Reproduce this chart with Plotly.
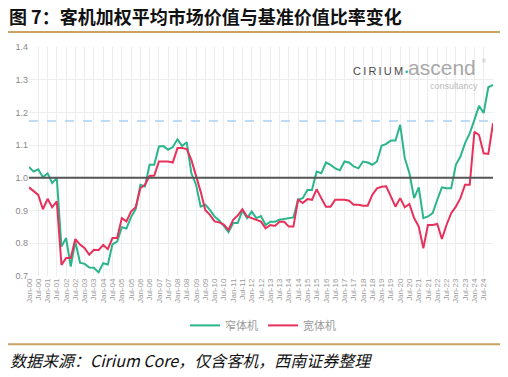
import plotly.graph_objects as go
import pandas as pd

# Quarterly observations, Jan-00 .. Jan-25
dates = pd.date_range("2000-01-01", periods=101, freq="QS")

narrowbody = [
    1.033, 1.019, 1.026, 1.002, 1.014, 0.984, 0.999, 0.790, 0.816, 0.729,
    0.805, 0.741, 0.737, 0.726, 0.725, 0.711, 0.739, 0.735, 0.797, 0.805,
    0.849, 0.845, 0.880, 0.904, 0.979, 0.974, 1.040, 1.040, 1.096, 1.097,
    1.086, 1.094, 1.118, 1.097, 1.109, 1.014, 0.979, 0.912, 0.918, 0.902,
    0.882, 0.870, 0.853, 0.834, 0.862, 0.862, 0.900, 0.877, 0.897, 0.877,
    0.883, 0.856, 0.866, 0.866, 0.872, 0.874, 0.877, 0.879, 0.933, 0.938,
    0.963, 0.963, 1.019, 1.014, 1.047, 1.040, 1.029, 1.023, 1.050, 1.047,
    1.035, 1.029, 1.050, 1.047, 1.040, 1.050, 1.098, 1.104, 1.114, 1.114,
    1.162, 1.060, 1.014, 0.938, 0.971, 0.877, 0.882, 0.892, 0.933, 0.971,
    0.968, 0.968, 1.040, 1.065, 1.106, 1.136, 1.177, 1.220, 1.198, 1.277,
    1.284,
]

widebody = [
    0.971, 0.958, 0.948, 0.904, 0.936, 0.910, 0.928, 0.734, 0.755, 0.755,
    0.813, 0.796, 0.785, 0.765, 0.780, 0.779, 0.795, 0.782, 0.816, 0.816,
    0.877, 0.867, 0.897, 0.910, 0.968, 0.979, 1.006, 1.007, 1.050, 1.050,
    1.050, 1.047, 1.091, 1.091, 1.088, 1.055, 1.009, 0.958, 0.902, 0.887,
    0.867, 0.864, 0.857, 0.841, 0.872, 0.885, 0.904, 0.882, 0.877, 0.872,
    0.866, 0.846, 0.856, 0.853, 0.866, 0.866, 0.851, 0.851, 0.933, 0.923,
    0.935, 0.933, 0.965, 0.938, 0.912, 0.912, 0.933, 0.933, 0.933, 0.930,
    0.918, 0.918, 0.915, 0.915, 0.948, 0.968, 0.973, 0.974, 0.945, 0.912,
    0.938, 0.910, 0.920, 0.877, 0.851, 0.785, 0.856, 0.856, 0.859, 0.813,
    0.856, 0.892, 0.912, 0.938, 0.979, 0.979, 1.141, 1.131, 1.075, 1.073,
    1.167,
]

baseline = 1.0
dashed_ref = 1.174

tick_dates = pd.date_range("2000-01-01", "2025-01-01", freq="6MS")
tick_text = [d.strftime("%b-%y") for d in tick_dates[:-1]] + [""]

# page body has an 8px margin; figure fills the rest of the 508x377 window
OFF = 8
W, H = 508 - OFF, 377 - OFF
# plot area in reference (window) pixels
RL, RR, RT, RB = 29, 493, 47, 276.5
L, R, T, B = RL - OFF, RR - OFF, RT - OFF, RB - OFF


def px2x(px):  # px given in reference window pixels
    return (px - RL) / (RR - RL)


def py2y(py):
    return (RB - py) / (RB - RT)


GREEN = "#2BB58C"
RED = "#E8305A"
GOLD = "#C9A265"

fig = go.Figure()
fig.add_trace(go.Scatter(x=dates, y=narrowbody, mode="lines", name="窄体机",
                         line=dict(color=GREEN, width=2)))
fig.add_trace(go.Scatter(x=dates, y=widebody, mode="lines", name="宽体机",
                         line=dict(color=RED, width=2)))

fig.add_hline(y=baseline, line=dict(color="#555555", width=2))
fig.add_hline(y=dashed_ref, line=dict(color="#A9D1F2", width=1.5, dash="dash"))

fig.update_layout(
    width=W, height=H,
    margin=dict(l=L, r=W - R, t=T, b=H - B, autoexpand=False),
    paper_bgcolor="white", plot_bgcolor="white",
    font=dict(family="Liberation Sans, Arial, sans-serif", color="#888888"),
    showlegend=True,
    legend=dict(orientation="h", x=px2x(263), xanchor="center",
                y=py2y(326), yanchor="middle",
                font=dict(size=11, color="#9a9a9a",
                          family="Noto Sans CJK SC, sans-serif"),
                itemwidth=30, tracegroupgap=0),
    xaxis=dict(
        type="date",
        range=[dates[0], pd.Timestamp("2025-01-01")],
        tickvals=tick_dates, ticktext=tick_text,
        tickangle=-90, tickfont=dict(size=8, color="#999999"),
        showgrid=True, gridcolor="#EDEDED", gridwidth=1,
        zeroline=False, showline=False, ticks="",
    ),
    yaxis=dict(
        range=[0.7, 1.4], dtick=0.1, tickformat=".1f",
        tickfont=dict(size=9, color="#888888"),
        showgrid=True, gridcolor="#EDEDED", gridwidth=1,
        zeroline=False, showline=False, ticks="",
    ),
)

# title, rules, source
fig.add_annotation(text="<b>图 7：客机加权平均市场价值与基准价值比率变化</b>",
                   xref="paper", yref="paper", x=px2x(8), y=py2y(16),
                   xanchor="left", yanchor="middle", showarrow=False,
                   borderpad=0,
                   font=dict(size=18, color="#111111",
                             family="Noto Sans CJK SC, sans-serif"))
for py in (32, 345):
    fig.add_shape(type="line", xref="paper", yref="paper",
                  x0=px2x(OFF), x1=px2x(503), y0=py2y(py), y1=py2y(py),
                  line=dict(color=GOLD, width=2))
fig.add_annotation(text="<i>数据来源：Cirium Core，仅含客机，西南证券整理</i>",
                   xref="paper", yref="paper", x=px2x(8), y=py2y(361),
                   xanchor="left", yanchor="middle", showarrow=False,
                   font=dict(size=16, color="#111111",
                             family="Noto Sans CJK SC, sans-serif"))

# logo
fig.add_annotation(
    text=("C\u2009I\u2009R\u2009I\u2009U\u2009M"
          "<span style='color:#1FB59B;font-size:9px'>\u2009•</span>"
          "<span style='color:#A8A8A8;font-size:21px'>ascend</span>"),
    xref="paper", yref="paper",
    x=px2x(351), y=py2y(68), xanchor="left", yanchor="middle",
    showarrow=False,
    font=dict(size=11, color="#4a4a4a", family="Liberation Sans, sans-serif"))
fig.add_annotation(text="consultancy", xref="paper", yref="paper",
                   x=px2x(480), y=py2y(86), xanchor="right", yanchor="middle",
                   showarrow=False,
                   font=dict(size=9, color="#BBBBBB", family="Liberation Sans, sans-serif"))
fig.add_annotation(text="®", xref="paper", yref="paper",
                   x=px2x(484), y=py2y(61), xanchor="center", yanchor="middle",
                   showarrow=False, font=dict(size=5, color="#AAAAAA"))

fig.write_html("out.html")
